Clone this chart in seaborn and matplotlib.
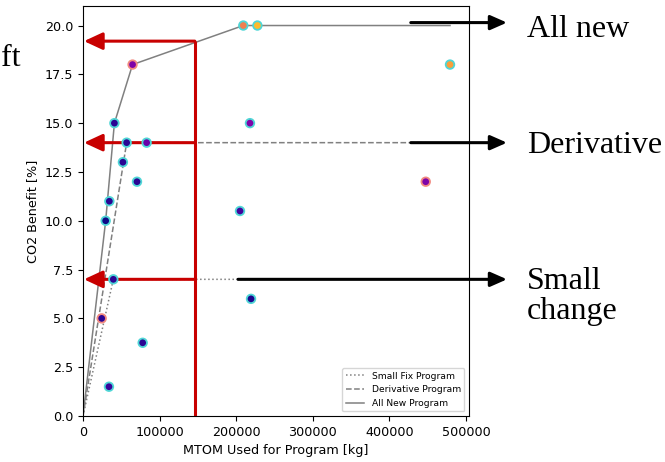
import numpy as np
import pandas as pd
import seaborn as sns
import matplotlib.pyplot as plt

# programs: MTOM used [kg], CO2 benefit [%], colour value, ring group
mtom = [209300, 227700, 64700, 41000, 57000, 83100, 52100, 70500, 218000, 34400,
        29600, 39600, 24400, 77900, 33900, 205000, 219400, 479200, 447500]
co2 = [20, 20, 18, 15, 14, 14, 13, 12, 15, 11,
       10, 7, 5, 3.75, 1.5, 10.5, 6, 18, 12]
shade = [0.68, 0.85, 0.25, 0.05, 0.05, 0.2, 0.05, 0.05, 0.25, 0.05,
         0.0, 0.05, 0.05, 0.05, 0.08, 0.1, 0.02, 0.78, 0.25]
ring = ["a", "a", "b", "a", "a", "a", "a", "a", "a", "a",
        "a", "a", "b", "a", "a", "a", "a", "a", "b"]

# frontier lines per program type
small_x = [0, 39600, 219400]
small_y = [0, 7, 7]
deriv_x = [0, 57000, 447500]
deriv_y = [0, 14, 14]
allnew_x = [0, 29600, 41000, 64700, 209300, 479200]
allnew_y = [0, 10, 15, 18, 20, 20]

# annotation levels
mtom_limit = 146000
red_levels = [19.2, 14, 7]
arrow_levels = [20.15, 14, 7]
arrow_starts = [428000, 428000, 202400]
arrow_tip = 553600
labels = ["All new", "Derivative", "Small\nchange"]

df = pd.DataFrame({"mtom": mtom, "co2": co2, "shade": shade, "ring": ring})

fig = plt.figure(figsize=(6.65, 4.62), dpi=100)
ax = fig.add_axes([83 / 665, 46 / 462, 386 / 665, 410 / 462])

sns.lineplot(x=small_x, y=small_y, ax=ax, color="gray", linestyle=":", lw=1.1,
             sort=False, estimator=None, label="Small Fix Program", zorder=2)
sns.lineplot(x=deriv_x, y=deriv_y, ax=ax, color="gray", linestyle="--", lw=1.1,
             sort=False, estimator=None, label="Derivative Program", zorder=2)
sns.lineplot(x=allnew_x, y=allnew_y, ax=ax, color="gray", linestyle="-", lw=1.1,
             sort=False, estimator=None, label="All New Program", zorder=2)

ring_colors = {"a": "#4fd6d6", "b": "#f28a80"}
for grp, sub in df.groupby("ring"):
    sns.scatterplot(data=sub, x="mtom", y="co2", hue="shade", palette="plasma",
                    hue_norm=(0, 1), s=38, edgecolor=ring_colors[grp], linewidth=1.3,
                    legend=False, ax=ax, zorder=3)

# red markers: MTOM limit and resulting benefit per type
red = "#c80000"
ax.plot([mtom_limit, mtom_limit], [0, red_levels[0]], color=red, lw=2.2,
        zorder=2.5, solid_capstyle="butt")
for lv in red_levels:
    ax.annotate("", xy=(1300, lv), xytext=(mtom_limit, lv),
                arrowprops=dict(arrowstyle="-|>,head_length=0.56,head_width=0.26",
                                mutation_scale=20, color=red, lw=2.2,
                                shrinkA=0, shrinkB=0),
                annotation_clip=False, zorder=2.5)

# black arrows to the type labels
for lv, x0 in zip(arrow_levels, arrow_starts):
    ax.annotate("", xy=(arrow_tip, lv), xytext=(x0, lv),
                arrowprops=dict(arrowstyle="-|>,head_length=0.5,head_width=0.22",
                                mutation_scale=20, color="black", lw=2.2,
                                shrinkA=0, shrinkB=0),
                annotation_clip=False, zorder=4)

serif = "Liberation Serif"
fig.text(527 / 665, 1 - 37 / 462, labels[0], fontsize=23, family=serif, va="baseline")
fig.text(527 / 665, 1 - 153 / 462, labels[1], fontsize=23, family=serif, va="baseline")
fig.text(527 / 665, 1 - 319 / 462, labels[2], fontsize=23, family=serif, va="baseline",
         linespacing=1.05)
fig.text(1 / 665, 1 - 66 / 462, "ft", fontsize=23, family=serif, va="baseline")

ax.set_xlim(0, 504000)
ax.set_ylim(0, 21)
ax.set_xticks([0, 100000, 200000, 300000, 400000, 500000])
ax.set_xticklabels(["0", "100000", "200000", "300000", "400000", "500000"])
ax.set_yticks(np.arange(0, 20.1, 2.5))
ax.tick_params(labelsize=9.2)
ax.set_xlabel("MTOM Used for Program [kg]", fontsize=9.2)
ax.set_ylabel("CO2 Benefit [%]", fontsize=9.2)
ax.legend(loc="lower right", fontsize=6.6)

fig.savefig("out.png", dpi=100)
